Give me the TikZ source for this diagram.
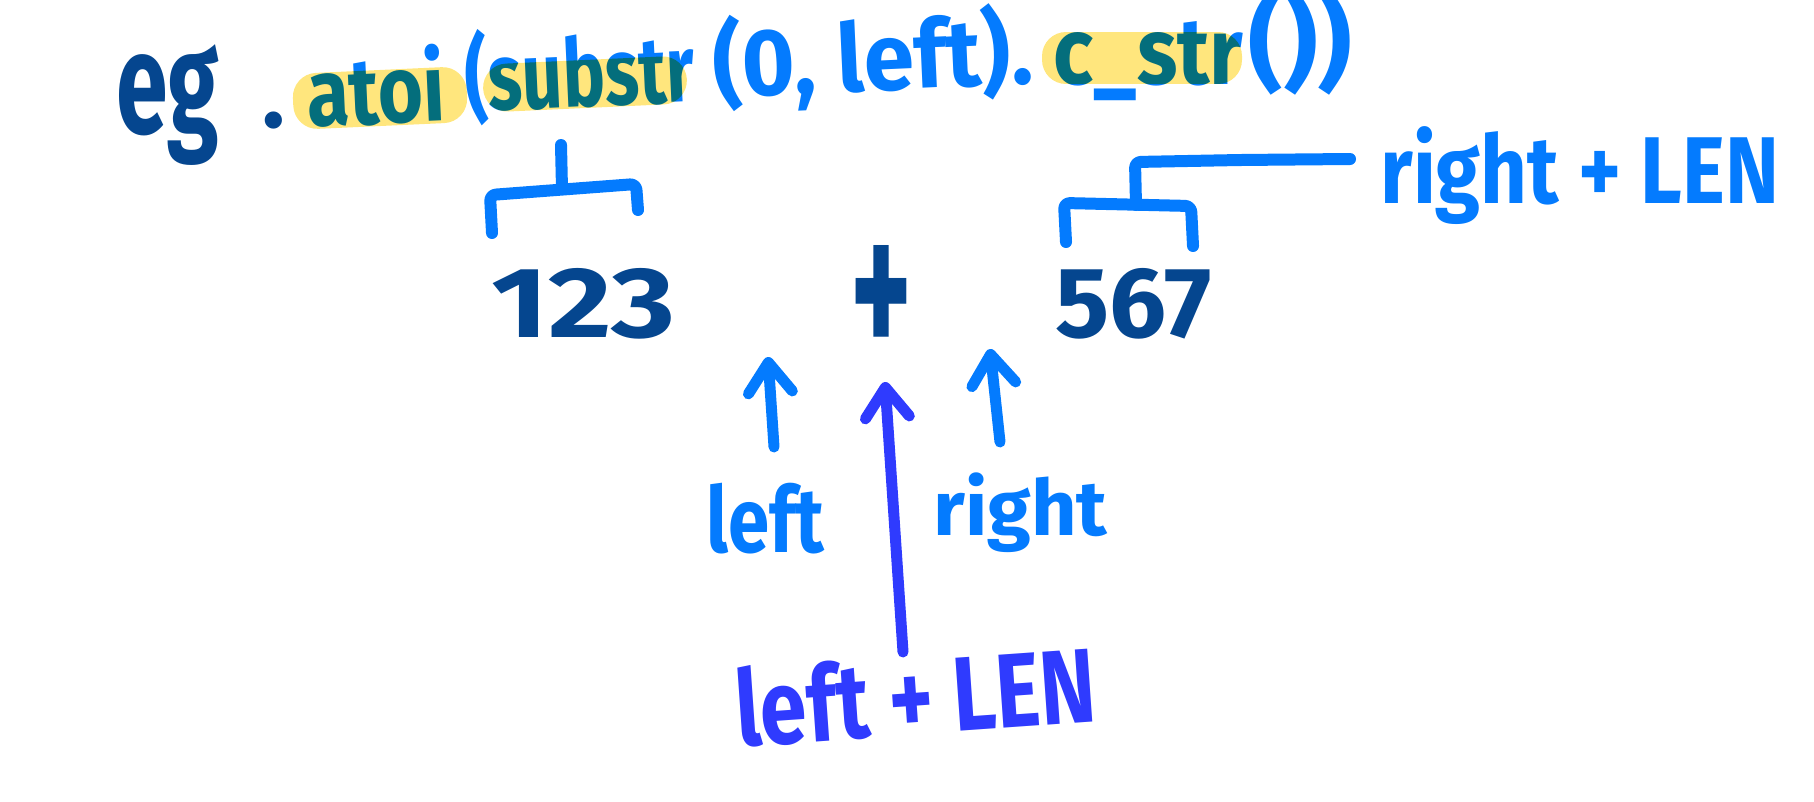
\documentclass[tikz,border=0pt]{standalone}
\usepackage{fontspec}
\usepackage{graphicx}
\usetikzlibrary{arrows.meta}
\newfontfamily\hand{Fira Sans}
\newlength\pxu
\setlength\pxu{0.02cm}
\newcommand\fitw[2]{\resizebox{#1\pxu}{\height}{#2}}
\definecolor{dblue}{RGB}{5,70,143}
\definecolor{lblue}{RGB}{4,123,254}
\definecolor{rblue}{RGB}{47,59,254}
\definecolor{hly}{RGB}{255,230,125}
\tikzset{
  txt/.style={inner sep=0pt, anchor=base west},
  hl/.style={fill=hly, draw=none, rounded corners=0.48cm, inner sep=0pt},
  brk/.style={draw=lblue, line width=0.24cm, line cap=round, line join=round, rounded corners=0.12cm},
  arr/.style={line width=0.22cm, line cap=round, -{Straight Barb[length=0.6cm, width=0.88cm, round]}},
}
\begin{document}
\begin{tikzpicture}[x=0.02cm, y=-0.02cm]
\useasboundingbox (0,0) rectangle (1814,801);
% heading
\node[txt, text=dblue, font=\hand\bfseries\fontsize{82pt}{90pt}\selectfont] (eg) at (116,133) {\fitw{103}{eg}};
\node[txt, text=dblue, font=\hand\bfseries\fontsize{54pt}{60pt}\selectfont] (dot) at (262,127) {.};
\node[txt, text=lblue, rotate=2.6, font=\hand\bfseries\fontsize{54pt}{60pt}\selectfont] (atoi) at (308,127) {\fitw{138}{atoi}};
\node[txt, text=lblue, rotate=2.6, font=\hand\bfseries\fontsize{54pt}{60pt}\selectfont] (substr) at (466,112) {\fitw{230}{(substr}};
\node[txt, text=lblue, rotate=2.6, font=\hand\bfseries\fontsize{54pt}{60pt}\selectfont] (args) at (714,98) {\fitw{320}{(0, left).}};
\node[txt, text=lblue, font=\hand\bfseries\fontsize{54pt}{60pt}\selectfont] (cstr) at (1053,84) {\fitw{190}{c\_str}};
\node[txt, text=lblue, font=\hand\bfseries\fontsize{60pt}{66pt}\selectfont] (close) at (1248,78) {\fitw{104}{())}};
% highlights (multiply)
\begin{scope}[blend mode=multiply]
\node[hl, minimum width=3.48cm, minimum height=1.12cm, rotate=2.6] (hatoi) at (380,98) {};
\node[hl, minimum width=4.08cm, minimum height=0.96cm, rotate=2.6] (hsub) at (585,84) {};
\node[hl, minimum width=4cm, minimum height=1.04cm] (hcstr) at (1142,58) {};
\end{scope}
% number row
\node[txt, text=dblue, font=\hand\bfseries\fontsize{57pt}{62pt}\selectfont] (n123) at (491,337) {\fitw{184}{123}};
\node[inner sep=0pt, text=dblue, font=\hand\bfseries\fontsize{57pt}{62pt}\selectfont] (plus) at (881,303) {\resizebox{62\pxu}{116\pxu}{+}};
\node[txt, text=dblue, font=\hand\bfseries\fontsize{57pt}{62pt}\selectfont] (n567) at (1055,337) {\fitw{156}{567}};
% labels
\node[txt, text=lblue, font=\hand\bfseries\fontsize{54pt}{60pt}\selectfont] (rlen) at (1380,203) {\fitw{399}{right + LEN}};
\node[txt, text=lblue, font=\hand\bfseries\fontsize{52pt}{58pt}\selectfont] (left) at (706,552) {\fitw{118}{left}};
\node[txt, text=lblue, font=\hand\bfseries\fontsize{44pt}{50pt}\selectfont] (right) at (933,535) {\fitw{174}{right}};
\node[txt, text=rblue, rotate=4, font=\hand\bfseries\fontsize{60pt}{66pt}\selectfont] (llen) at (738,747) {\fitw{361}{left + LEN}};
% bracket over 123
\coordinate (b1l) at (492,233);
\coordinate (b1r) at (638,210);
\coordinate (b1m) at (562,189);
\coordinate (b1t) at (561,145);
\draw[brk] (b1l) -- (490,195) -- (636,184) -- (b1r);
\draw[brk] (b1m) -- (b1t);
% bracket over 567 linked to right + LEN
\coordinate (b2l) at (1066,242);
\coordinate (b2r) at (1193,246);
\coordinate (b2m) at (1136,205);
\coordinate (b2e) at (1350,159);
\draw[brk] (b2l) -- (1064,203) -- (1191,206) -- (b2r);
\draw[brk] (b2m) -- (1135,162) -- (1240,160) -- (b2e);
% arrows
\coordinate (la0) at (774,447);
\coordinate (la1) at (768,357);
\coordinate (ra0) at (1000,442);
\coordinate (ra1) at (990,349);
\coordinate (lla0) at (903,652);
\coordinate (lla1) at (885,382);
\draw[arr, draw=lblue] (la0) -- (la1);
\draw[arr, draw=lblue] (ra0) -- (ra1);
\draw[arr, draw=rblue] (lla0) -- (lla1);
\end{tikzpicture}
\end{document}
